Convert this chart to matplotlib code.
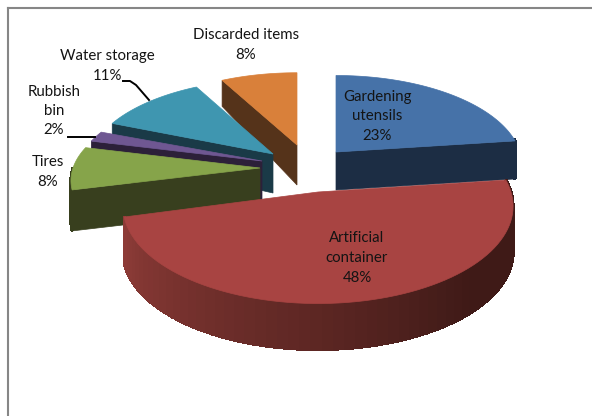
import numpy as np
import matplotlib
matplotlib.use("Agg")
import matplotlib.pyplot as plt

# data, in excel's order (clockwise from 12 o'clock)
categories = ["Gardening\nutensils", "Artificial\ncontainer", "Tires", "Rubbish\nbin", "Water storage", "Discarded items"]
values = [23, 48, 8, 2, 11, 8]

# look of each slice: apex x/y, radius x/y, depth, depth falloff
apex_x = [336, 318, 260, 262, 273, 297]
apex_y = [152, 192, 168, 161, 154, 145]
rad_x = [184, 193, 187, 183, 183, 179]
rad_y = [90, 97, 85, 83, 88, 85]
depth = [38, 46, 41, 40, 39, 40]
falloff = [0.0, 0.0, 0.0, 0.4, 0.4, 0.4]
top_colors = ["#4672a8", "#a84442", "#86a44a", "#6f5792", "#3f96b0", "#d9803a"]
side_colors = ["#1c2d44", "#6a2a28", "#383f1e", "#2c2039", "#1a3a47", "#55331a"]
label_x = [377, 357, 48, 54, 107, 246]
label_y = [116, 258, 172, 111, 66, 45]
PERSP = 0.15


def project(i, theta):
    # theta in radians clockwise from the top, far side of the pie drawn smaller
    scale = 1 - PERSP * np.cos(theta)
    x = apex_x[i] + rad_x[i] * np.sin(theta) * scale
    y = apex_y[i] - rad_y[i] * np.cos(theta) * scale
    return x, y


def drop(i, theta):
    return depth[i] * (1 - falloff[i] * np.cos(theta))


def mix(c1, c2, t):
    a = np.array(matplotlib.colors.to_rgb(c1))
    b = np.array(matplotlib.colors.to_rgb(c2))
    return tuple(a + (b - a) * t)


fig = plt.figure(figsize=(5.92, 4.16), dpi=100)
ax = fig.add_axes([0, 0, 1, 1])
ax.set_xlim(0, 592)
ax.set_ylim(416, 0)
ax.axis("off")

# frame around the chart, only left and top show up
ax.plot([8, 8], [416, 8], color="#868686", lw=1.5)
ax.plot([8, 592], [8, 8], color="#868686", lw=1.5)

edges = np.radians(np.cumsum([0] + values) * 3.6)

# back slices first, the big red one last
for i in [5, 4, 3, 2, 0, 1]:
    start, end = edges[i], edges[i + 1]

    # cut face, the one that is turned towards us
    cut = end if i == 0 else start
    if i != 1:
        px, py = project(i, cut)
        ax.fill([apex_x[i], px, px, apex_x[i]],
                [apex_y[i], py, py + drop(i, cut), apex_y[i] + depth[i]],
                color=side_colors[i], lw=0.5)

    # outer rim on the front half of the pie
    lo, hi = max(start, np.pi / 2 - 0.15), min(end, np.pi * 1.5)
    if hi > lo:
        steps = np.linspace(lo, hi, 60)
        for a, b in zip(steps[:-1], steps[1:]):
            xa, ya = project(i, a)
            xb, yb = project(i, b)
            if i == 1:
                t = (a - lo) / (hi - lo)
                c = mix("#3f1a17", "#8f3c38", min(1, max(0, (t - 0.3) / 0.7)))
            else:
                c = side_colors[i]
            # thick edge so no light seams show between the strips
            ax.fill([xa, xb, xb, xa], [ya, yb, yb + drop(i, b), ya + drop(i, a)],
                    color=c, lw=1.5, antialiased=False)

    # top of the slice
    t = np.linspace(start, end, 80)
    x, y = project(i, t)
    ax.fill(np.r_[apex_x[i], x], np.r_[apex_y[i], y], color=top_colors[i], lw=0.5)

# leader lines
ax.plot([123, 130, 136, 149], [81, 81, 85, 100], color="black", lw=1.4)
ax.plot([68, 95], [137, 137], color="black", lw=1.4)

for name, val, lx, ly in zip(categories, values, label_x, label_y):
    ax.text(lx, ly, f"{name}\n{val}%", ha="center", va="center", fontsize=10.8,
            family="Lato", color="#141414", linespacing=1.5)

fig.savefig("out.png", dpi=100)
